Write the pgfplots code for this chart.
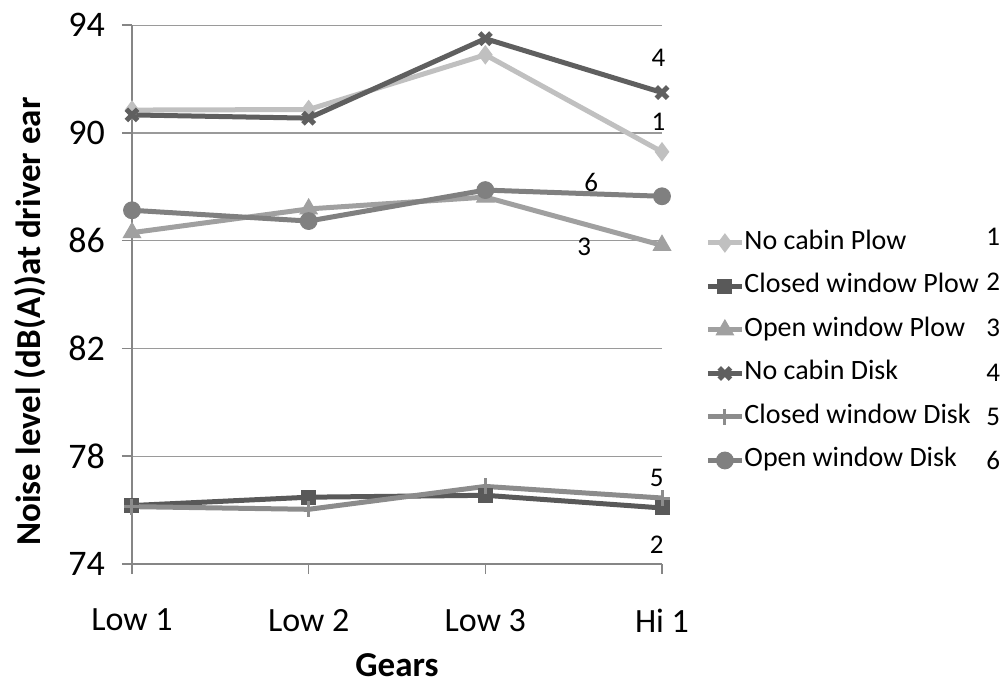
\documentclass[border=0pt]{standalone}
\usepackage{pgfplots}
\pgfplotsset{compat=1.18}
\usepackage{fontspec}
\setmainfont{Carlito}

\definecolor{axisgray}{HTML}{868686}
\definecolor{gridgray}{HTML}{9A9A9A}
\definecolor{cOne}{HTML}{C0C0C0}
\definecolor{cTwo}{HTML}{595959}
\definecolor{cThree}{HTML}{A0A0A0}
\definecolor{cFour}{HTML}{5F5F5F}
\definecolor{cFive}{HTML}{8C8C8C}
\definecolor{cSix}{HTML}{808080}

\begin{document}
\begin{tikzpicture}
\useasboundingbox (0,0) rectangle (503pt,341pt);
\begin{axis}[
  at={(66pt,59pt)}, anchor=south west,
  scale only axis, width=265pt, height=269.4pt,
  xmin=0, xmax=3, ymin=74, ymax=94,
  xtick={0,1,2,3}, xticklabels={Low 1,Low 2,Low 3,Hi 1},
  ytick={74,78,82,86,90,94},
  axis x line=bottom, axis y line=left,
  axis line style={-, draw=axisgray, line width=0.75pt},
  tick align=outside, major tick length=5pt,
  tick style={draw=axisgray, line width=0.75pt},
  ymajorgrids, grid style={draw=gridgray, line width=0.6pt},
  /pgf/number format/assume math mode=true,
  xticklabel style={font=\fontsize{17}{20}\selectfont, yshift=-14pt},
  yticklabel style={font=\fontsize{18}{21}\selectfont, xshift=-5pt},
  xlabel={\textbf{Gears}},
  ylabel={\textbf{Noise level (dB(A))at driver ear}},
  label style={font=\fontsize{17.5}{20}\selectfont},
  xlabel style={at={(axis description cs:0.5,-0.208)}, anchor=base, inner sep=0pt},
  ylabel style={at={(axis description cs:-0.1925,0.45)}, anchor=center},
  clip=false,
  legend cell align=left,
  legend style={at={(axis description cs:1.081,0.394)}, anchor=west,
    draw=none, fill=none, inner sep=0pt,
    font=\fontsize{14}{16}\selectfont, row sep=8.25pt,
    /tikz/every odd column/.append style={column sep=0pt},
    nodes={inner sep=0pt, text height=10pt, text depth=3.5pt}},
  every axis plot/.append style={line width=2.5pt},
]
% 1: no cabin, plow
\addplot[color=cOne, mark=diamond*, mark size=4.5pt, mark options={line width=0.5pt}]
  coordinates {(0,90.85) (1,90.87) (2,92.9) (3,89.3)};
\addlegendentry{No cabin Plow}
% 2: closed window, plow
\addplot[color=cTwo, mark=square*, mark size=3.5pt, mark options={line width=0.5pt}]
  coordinates {(0,76.17) (1,76.48) (2,76.55) (3,76.08)};
\addlegendentry{Closed window Plow}
% 3: open window, plow
\addplot[color=cThree, mark=triangle*, mark size=5pt, mark options={line width=0.5pt}]
  coordinates {(0,86.3) (1,87.18) (2,87.62) (3,85.83)};
\addlegendentry{Open window Plow}
% 4: no cabin, disk
\addplot[color=cFour, mark=x, mark size=4pt, mark options={line width=2.5pt}]
  coordinates {(0,90.67) (1,90.55) (2,93.5) (3,91.5)};
\addlegendentry{No cabin Disk}
% 5: closed window, disk
\addplot[color=cFive, mark=+, mark size=4pt, mark options={line width=1.5pt}]
  coordinates {(0,76.13) (1,76.03) (2,76.88) (3,76.45)};
\addlegendentry{Closed window Disk}
% 6: open window, disk
\addplot[color=cSix, mark=*, mark size=4.2pt, mark options={line width=0.5pt}]
  coordinates {(0,87.13) (1,86.73) (2,87.88) (3,87.65)};
\addlegendentry{Open window Disk}

% series numbers beside the lines
\begin{scope}[font=\fontsize{13.5}{16}\selectfont]
\node at (axis cs:2.98,92.79) {4};
\node at (axis cs:2.98,90.41) {1};
\node at (axis cs:2.60,88.18) {6};
\node at (axis cs:2.56,85.77) {3};
\node at (axis cs:2.97,77.19) {5};
\node at (axis cs:2.97,74.70) {2};
% series numbers beside the legend
\node at (axis description cs:1.625,0.607) {1};
\node at (axis description cs:1.625,0.5235) {2};
\node at (axis description cs:1.625,0.438) {3};
\node at (axis description cs:1.625,0.3546) {4};
\node at (axis description cs:1.625,0.273) {5};
\node at (axis description cs:1.625,0.193) {6};
\end{scope}
\end{axis}
\end{tikzpicture}
\end{document}
